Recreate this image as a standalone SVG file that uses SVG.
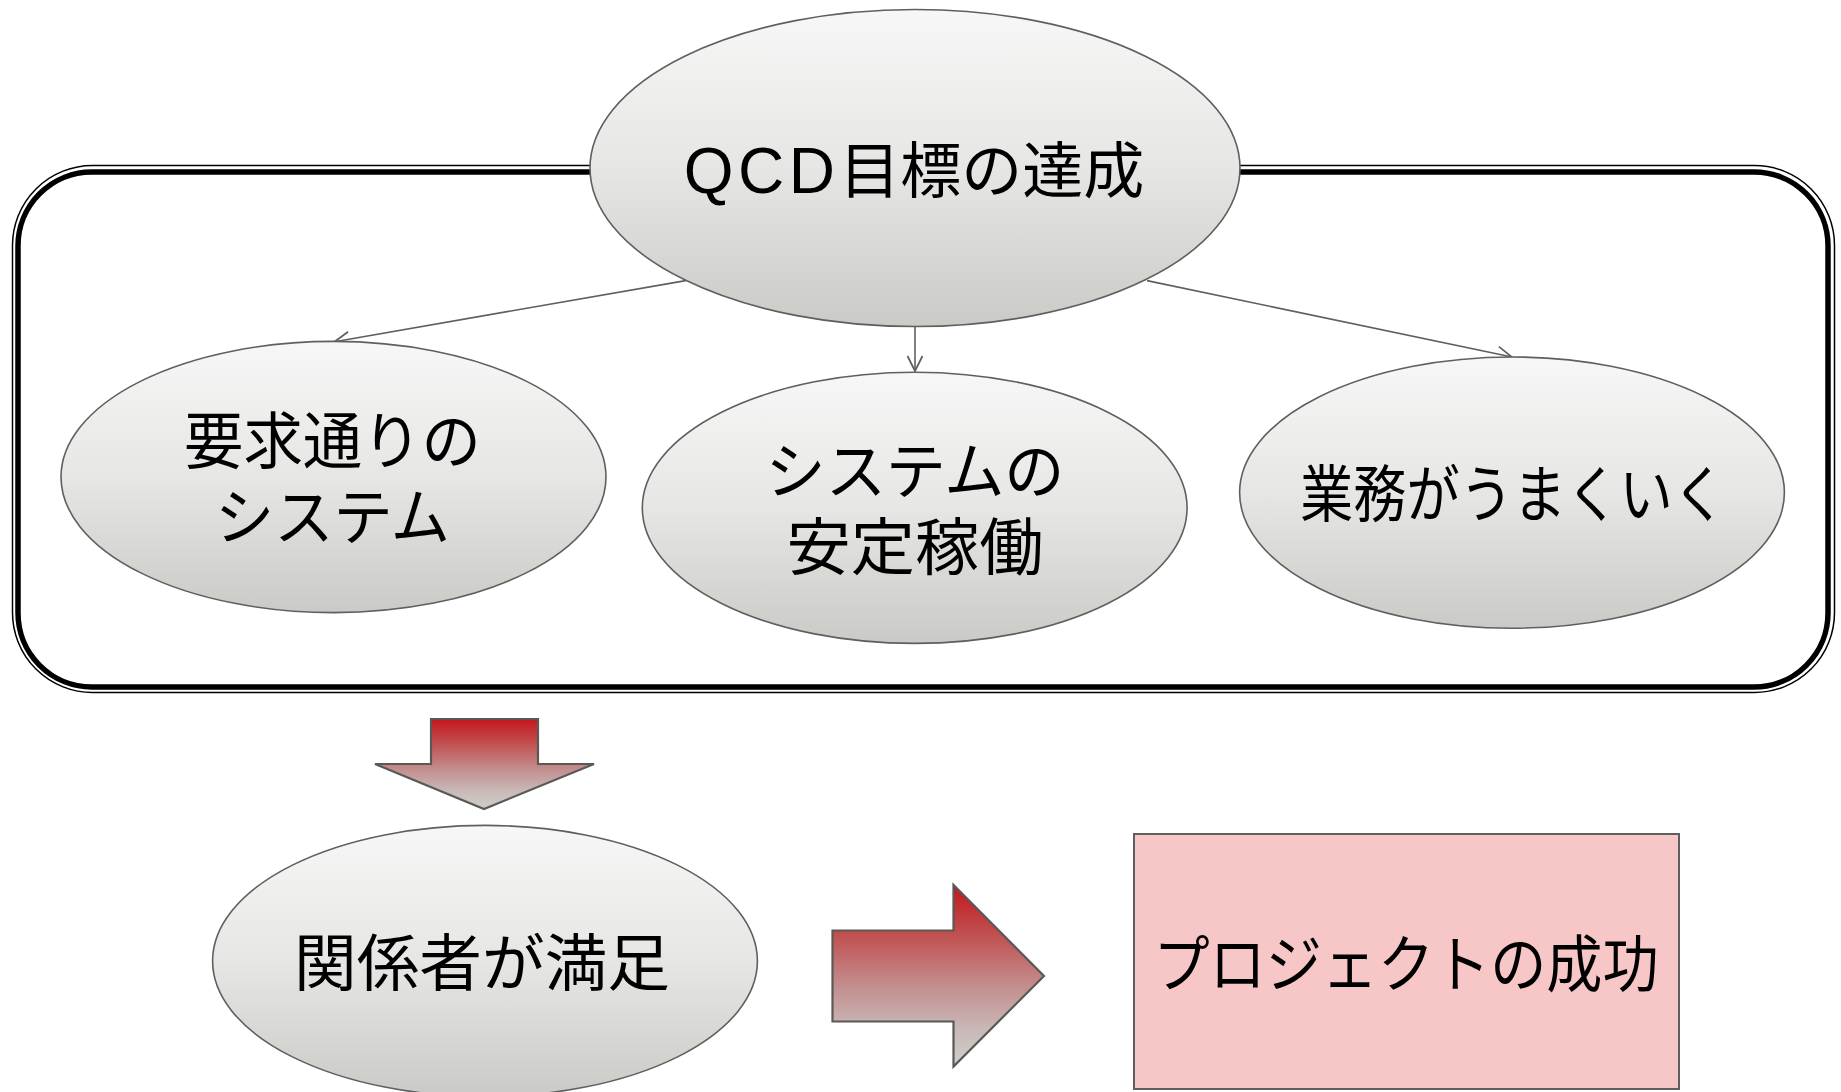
<svg xmlns="http://www.w3.org/2000/svg" width="1841" height="1092" viewBox="0 0 1841 1092">
  <style>
    .node { fill: url(#ellGrad); stroke: #5f5f5f; stroke-width: 1.6; }
    .lbl { font-family: "Noto Sans CJK JP", "Noto Sans", sans-serif; font-size: 62px; fill: #000; text-anchor: middle; }
    .conn { stroke: #5f5f5f; stroke-width: 1.6; fill: none; marker-end: url(#openArrow); }
    .block { fill: url(#redGrad); stroke: #595955; stroke-width: 2.2; stroke-linejoin: miter; }
  </style>
  <defs>
    <linearGradient id="ellGrad" x1="0" y1="0" x2="0" y2="1">
      <stop offset="0" stop-color="#f7f7f7"/>
      <stop offset="0.5" stop-color="#e6e6e4"/>
      <stop offset="1" stop-color="#cacac6"/>
    </linearGradient>
    <linearGradient id="redGrad" x1="0" y1="0" x2="0" y2="1">
      <stop offset="0" stop-color="#c4161c"/>
      <stop offset="0.3" stop-color="#c15656"/>
      <stop offset="0.55" stop-color="#c38c8c"/>
      <stop offset="0.8" stop-color="#c9b9b8"/>
      <stop offset="1" stop-color="#cfcfcb"/>
    </linearGradient>
    <marker id="openArrow" markerUnits="userSpaceOnUse" markerWidth="20" markerHeight="20" viewBox="0 0 20 20" refX="18" refY="10" orient="auto">
      <path d="M3,2.5 L18,10 L3,17.5" fill="none" stroke="#5f5f5f" stroke-width="1.7"/>
    </marker>
  </defs>

  <g id="frame">
    <rect x="12.5" y="165.5" width="1822" height="527" rx="80" ry="80" fill="none" stroke="#000" stroke-width="1.5"/>
    <rect x="18" y="172" width="1810" height="515" rx="74" ry="74" fill="none" stroke="#000" stroke-width="5.5"/>
  </g>

  <g id="connectors">
    <line class="conn" x1="685.7" y1="280.6" x2="334.6" y2="341.7"/>
    <line class="conn" x1="915" y1="326.5" x2="915" y2="371"/>
    <line class="conn" x1="1147" y1="280.6" x2="1512" y2="357"/>
  </g>

  <g id="node-qcd">
    <ellipse class="node" cx="915" cy="168" rx="325" ry="158.5"/>
    <text class="lbl" x="914" y="192.5" style="font-size:61px"><tspan style="font-family:'Liberation Sans','Noto Sans',sans-serif;font-size:64px;letter-spacing:4.5px">QCD</tspan>目標の達成</text>
  </g>

  <g id="node-req">
    <ellipse class="node" cx="333.5" cy="477" rx="272.5" ry="135.6"/>
    <text class="lbl" x="332.5" y="464" textLength="297" lengthAdjust="spacingAndGlyphs">要求通りの</text>
    <text class="lbl" x="332.5" y="540" textLength="235" lengthAdjust="spacingAndGlyphs">システム</text>
  </g>

  <g id="node-stable">
    <ellipse class="node" cx="914.7" cy="507.8" rx="272.4" ry="135.6"/>
    <text class="lbl" x="915" y="493.5" textLength="299" lengthAdjust="spacingAndGlyphs">システムの</text>
    <text class="lbl" x="915" y="569.5" textLength="257" lengthAdjust="spacingAndGlyphs">安定稼働</text>
  </g>

  <g id="node-business">
    <ellipse class="node" cx="1512" cy="492.6" rx="272.4" ry="135.6"/>
    <text class="lbl" x="1513" y="517" textLength="426" lengthAdjust="spacingAndGlyphs">業務がうまくいく</text>
  </g>

  <g id="arrow-down">
    <polygon class="block" points="431,719 538,719 538,764 594,764 484,809 375,764 431,764"/>
  </g>

  <g id="node-stakeholders">
    <ellipse class="node" cx="485" cy="961" rx="272.4" ry="135.6"/>
    <text class="lbl" x="482" y="986" textLength="376" lengthAdjust="spacingAndGlyphs">関係者が満足</text>
  </g>

  <g id="arrow-right">
    <polygon class="block" points="832.5,930.5 953.5,930.5 953.5,885 1044,976 953.5,1066.5 953.5,1021.5 832.5,1021.5"/>
  </g>

  <g id="node-success">
    <rect x="1134" y="834" width="545" height="255" fill="#f7c6c6" stroke="#5f5f5f" stroke-width="2"/>
    <text class="lbl" x="1406" y="986.5" textLength="505" lengthAdjust="spacingAndGlyphs">プロジェクトの成功</text>
  </g>
</svg>
